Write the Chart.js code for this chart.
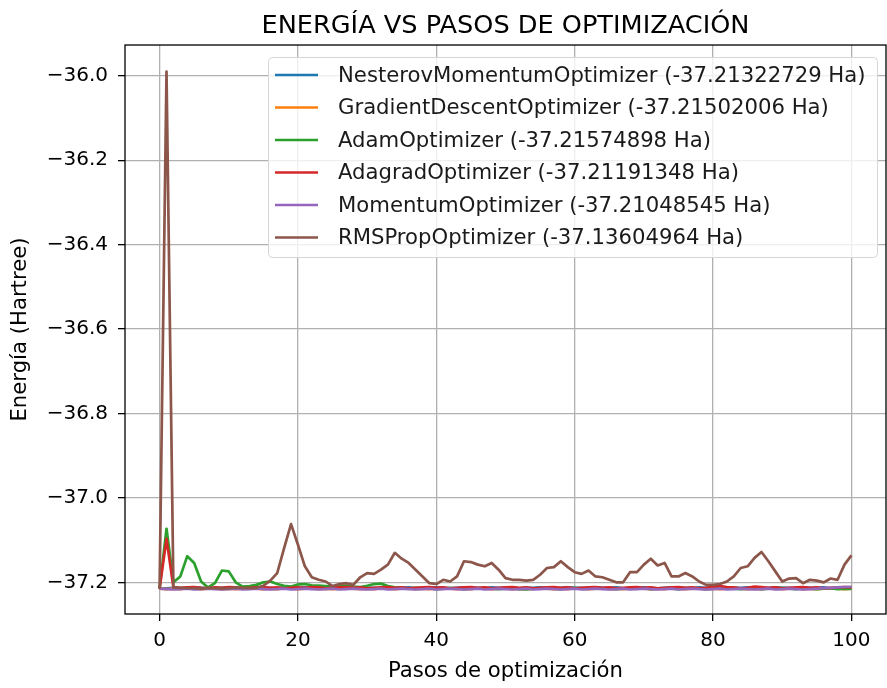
<!DOCTYPE html>
<html><head><meta charset="utf-8">
<script src="https://cdn.jsdelivr.net/npm/chart.js@4.4.0/dist/chart.umd.min.js"></script>
<style>html,body{margin:0;padding:0;background:#fff;}#wrap{width:887px;height:688px;position:relative;}</style>
</head><body><div id="wrap"><canvas id="c"></canvas></div>
<script>
const steps = [0,1,2,3,4,5,6,7,8,9,10,11,12,13,14,15,16,17,18,19,20,21,22,23,24,25,26,27,28,29,30,31,32,33,34,35,36,37,38,39,40,41,42,43,44,45,46,47,48,49,50,51,52,53,54,55,56,57,58,59,60,61,62,63,64,65,66,67,68,69,70,71,72,73,74,75,76,77,78,79,80,81,82,83,84,85,86,87,88,89,90,91,92,93,94,95,96,97,98,99,100];

const seriesNames = ["NesterovMomentumOptimizer (-37.21322729 Ha)","GradientDescentOptimizer (-37.21502006 Ha)","AdamOptimizer (-37.21574898 Ha)","AdagradOptimizer (-37.21191348 Ha)","MomentumOptimizer (-37.21048545 Ha)","RMSPropOptimizer (-37.13604964 Ha)"];
const seriesColors = ["#1f77b4","#ff7f0e","#2ca02c","#d62728","#9467bd","#8c564b"];

const nesterov = [-37.215,-37.214,-37.213,-37.214,-37.213,-37.212,-37.213,-37.214,-37.213,-37.213,
-37.212,-37.213,-37.214,-37.213,-37.212,-37.213,-37.213,-37.214,-37.212,-37.213,
-37.213,-37.212,-37.214,-37.213,-37.213,-37.212,-37.213,-37.214,-37.213,-37.212,
-37.213,-37.213,-37.214,-37.212,-37.213,-37.213,-37.212,-37.214,-37.213,-37.213,
-37.212,-37.213,-37.214,-37.213,-37.212,-37.213,-37.213,-37.214,-37.212,-37.213,
-37.213,-37.212,-37.214,-37.213,-37.213,-37.212,-37.213,-37.214,-37.213,-37.212,
-37.213,-37.213,-37.214,-37.212,-37.213,-37.213,-37.212,-37.214,-37.213,-37.213,
-37.212,-37.213,-37.214,-37.213,-37.212,-37.213,-37.213,-37.214,-37.212,-37.213,
-37.213,-37.212,-37.214,-37.213,-37.213,-37.212,-37.213,-37.214,-37.213,-37.212,
-37.213,-37.213,-37.214,-37.212,-37.213,-37.213,-37.212,-37.214,-37.213,-37.213,
-37.2132];
const gradDescent = [-37.215,-37.216,-37.215,-37.216,-37.214,-37.215,-37.216,-37.215,-37.214,-37.216,
-37.215,-37.216,-37.215,-37.214,-37.215,-37.216,-37.215,-37.216,-37.214,-37.215,
-37.216,-37.215,-37.214,-37.216,-37.215,-37.216,-37.215,-37.214,-37.215,-37.216,
-37.215,-37.216,-37.214,-37.215,-37.216,-37.215,-37.214,-37.216,-37.215,-37.216,
-37.215,-37.214,-37.215,-37.216,-37.215,-37.216,-37.214,-37.215,-37.216,-37.215,
-37.214,-37.216,-37.215,-37.216,-37.215,-37.214,-37.215,-37.216,-37.215,-37.216,
-37.214,-37.215,-37.216,-37.215,-37.214,-37.216,-37.215,-37.216,-37.215,-37.214,
-37.215,-37.216,-37.215,-37.216,-37.214,-37.215,-37.216,-37.215,-37.214,-37.216,
-37.215,-37.216,-37.215,-37.214,-37.215,-37.216,-37.215,-37.216,-37.214,-37.215,
-37.216,-37.215,-37.214,-37.216,-37.215,-37.216,-37.215,-37.214,-37.215,-37.216,
-37.2150];
const adam = [-37.215,-37.073,-37.200,-37.186,-37.138,-37.154,-37.198,-37.212,-37.202,-37.172,
-37.174,-37.200,-37.210,-37.209,-37.206,-37.200,-37.198,-37.204,-37.208,-37.210,
-37.205,-37.204,-37.207,-37.208,-37.209,-37.210,-37.209,-37.208,-37.210,-37.211,
-37.208,-37.204,-37.203,-37.209,-37.212,-37.213,-37.214,-37.213,-37.215,-37.214,
-37.216,-37.215,-37.213,-37.214,-37.216,-37.215,-37.214,-37.213,-37.215,-37.216,
-37.215,-37.214,-37.216,-37.217,-37.215,-37.214,-37.213,-37.215,-37.216,-37.214,
-37.213,-37.215,-37.214,-37.212,-37.214,-37.215,-37.216,-37.215,-37.214,-37.213,
-37.214,-37.216,-37.215,-37.214,-37.215,-37.216,-37.214,-37.213,-37.215,-37.216,
-37.215,-37.214,-37.213,-37.215,-37.216,-37.215,-37.214,-37.216,-37.215,-37.214,
-37.213,-37.215,-37.216,-37.214,-37.215,-37.216,-37.215,-37.214,-37.216,-37.215,
-37.2157];
const adagrad = [-37.215,-37.097,-37.212,-37.213,-37.212,-37.211,-37.213,-37.214,-37.212,-37.213,
-37.211,-37.212,-37.214,-37.213,-37.212,-37.211,-37.213,-37.212,-37.214,-37.213,
-37.212,-37.213,-37.211,-37.212,-37.214,-37.213,-37.212,-37.211,-37.213,-37.212,
-37.214,-37.213,-37.212,-37.211,-37.213,-37.212,-37.214,-37.213,-37.212,-37.211,
-37.213,-37.212,-37.214,-37.213,-37.212,-37.211,-37.213,-37.212,-37.214,-37.213,
-37.212,-37.211,-37.213,-37.212,-37.214,-37.213,-37.212,-37.211,-37.213,-37.212,
-37.214,-37.213,-37.212,-37.211,-37.213,-37.212,-37.214,-37.213,-37.212,-37.211,
-37.213,-37.212,-37.214,-37.213,-37.212,-37.211,-37.213,-37.212,-37.214,-37.213,
-37.210,-37.209,-37.211,-37.212,-37.214,-37.213,-37.210,-37.211,-37.213,-37.212,
-37.214,-37.213,-37.212,-37.211,-37.213,-37.212,-37.214,-37.213,-37.212,-37.211,
-37.2119];
const momentum = [-37.215,-37.216,-37.217,-37.216,-37.215,-37.217,-37.216,-37.215,-37.216,-37.217,
-37.216,-37.215,-37.217,-37.216,-37.215,-37.216,-37.217,-37.216,-37.215,-37.217,
-37.216,-37.215,-37.216,-37.217,-37.216,-37.215,-37.217,-37.216,-37.215,-37.216,
-37.217,-37.216,-37.215,-37.217,-37.216,-37.215,-37.216,-37.217,-37.216,-37.215,
-37.217,-37.216,-37.215,-37.216,-37.217,-37.216,-37.215,-37.217,-37.216,-37.215,
-37.216,-37.217,-37.216,-37.215,-37.217,-37.216,-37.215,-37.216,-37.217,-37.216,
-37.215,-37.217,-37.216,-37.215,-37.216,-37.217,-37.216,-37.215,-37.217,-37.216,
-37.215,-37.216,-37.217,-37.216,-37.215,-37.217,-37.216,-37.215,-37.216,-37.217,
-37.216,-37.215,-37.217,-37.216,-37.215,-37.216,-37.217,-37.216,-37.215,-37.217,
-37.216,-37.215,-37.216,-37.217,-37.216,-37.215,-37.214,-37.213,-37.212,-37.211,
-37.2105];
const rmsprop = [-37.215,-35.990,-37.212,-37.213,-37.214,-37.214,-37.215,-37.213,-37.214,-37.215,
-37.214,-37.212,-37.213,-37.214,-37.213,-37.208,-37.196,-37.178,-37.119,-37.062,
-37.111,-37.162,-37.188,-37.194,-37.198,-37.209,-37.204,-37.202,-37.206,-37.188,
-37.178,-37.180,-37.170,-37.158,-37.130,-37.144,-37.154,-37.170,-37.186,-37.202,
-37.204,-37.194,-37.198,-37.186,-37.150,-37.152,-37.158,-37.162,-37.154,-37.170,
-37.190,-37.194,-37.194,-37.196,-37.194,-37.182,-37.166,-37.164,-37.150,-37.164,
-37.176,-37.180,-37.172,-37.186,-37.188,-37.194,-37.200,-37.200,-37.176,-37.176,
-37.158,-37.144,-37.160,-37.154,-37.186,-37.186,-37.178,-37.186,-37.198,-37.206,
-37.206,-37.204,-37.198,-37.186,-37.166,-37.162,-37.142,-37.128,-37.150,-37.174,
-37.198,-37.191,-37.190,-37.202,-37.194,-37.196,-37.200,-37.191,-37.194,-37.158,
-37.136];

const seriesValues = [nesterov, gradDescent, adam, adagrad, momentum, rmsprop];
const xTicks = [0,20,40,60,80,100];
const yTicks = [-37.2,-37.0,-36.8,-36.6,-36.4,-36.2,-36.0];

const FONT = "'DejaVu Sans', sans-serif";

const datasets = seriesValues.map((vals, i) => ({
  label: seriesNames[i],
  data: steps.map((s, j) => ({x: s, y: vals[j]})),
  borderColor: seriesColors[i],
  backgroundColor: seriesColors[i],
  borderWidth: 2.7,
  pointRadius: 0,
  tension: 0,
  fill: false,
  borderJoinStyle: 'round',
  order: seriesValues.length - i
}));

const framePlugin = {
  id: 'frame',
  afterDatasetsDraw(chart) {
    const {ctx, chartArea: a} = chart;
    ctx.save();
    ctx.strokeStyle = '#000';
    ctx.lineWidth = 1.3;
    ctx.strokeRect(a.left, a.top, a.right - a.left, a.bottom - a.top);
    ctx.restore();
  }
};

const legendPlugin = {
  id: 'mplLegend',
  afterDraw(chart) {
    const ctx = chart.ctx;
    const x0 = 268, y0 = 57, w = 609, h = 200, r = 4;
    ctx.save();
    ctx.beginPath();
    ctx.roundRect(x0 + 0.5, y0 + 0.5, w, h, r);
    ctx.fillStyle = 'rgba(255,255,255,0.8)';
    ctx.fill();
    ctx.strokeStyle = '#d6d6d6';
    ctx.lineWidth = 1;
    ctx.stroke();
    ctx.font = '21.2px ' + FONT;
    ctx.textBaseline = 'middle';
    ctx.textAlign = 'left';
    seriesNames.forEach((name, i) => {
      const y = 75 + i * 32.5;
      ctx.beginPath();
      ctx.moveTo(275, y);
      ctx.lineTo(318, y);
      ctx.strokeStyle = seriesColors[i];
      ctx.lineWidth = 2.7;
      ctx.stroke();
      ctx.fillStyle = '#1a1a1a';
      ctx.fillText(name, 338, y + 1);
    });
    ctx.restore();
  }
};

const fmt = v => (v < 0 ? '\u2212' : '') + Math.abs(v).toFixed(1);

new Chart(document.getElementById('c'), {
  type: 'line',
  data: { datasets },
  plugins: [framePlugin, legendPlugin],
  options: {
    responsive: true,
    maintainAspectRatio: false,
    animation: false,
    layout: { padding: { left: 0, right: 1, top: 0, bottom: 0 } },
    plugins: {
      legend: { display: false },
      tooltip: { enabled: false },
      title: {
        display: true,
        fullSize: false,
        text: 'ENERGÍA VS PASOS DE OPTIMIZACIÓN',
        color: '#000',
        font: { family: FONT, size: 25.6, weight: 'normal', lineHeight: 1.2 },
        padding: { top: 11, bottom: 3.3 }
      }
    },
    scales: {
      x: {
        type: 'linear',
        min: -5, max: 105,
        afterBuildTicks: s => { s.ticks = xTicks.map(v => ({value: v})); },
        afterFit: s => { s.height = 74; },
        ticks: { color: '#000', font: { family: FONT, size: 20 }, padding: 8, maxRotation: 0, callback: v => String(v) },
        grid: { color: '#b0b0b0', lineWidth: 1.3, tickColor: '#000', tickLength: 7, drawTicks: true },
        border: { display: false },
        title: { display: true, text: 'Pasos de optimización', color: '#000', font: { family: FONT, size: 21.2, lineHeight: 1.2 }, padding: { top: 0, bottom: 4 } }
      },
      y: {
        type: 'linear',
        min: -37.275, max: -35.927,
        afterBuildTicks: s => { s.ticks = yTicks.map(v => ({value: v})); },
        afterFit: s => { s.width = 125; },
        ticks: { color: '#000', font: { family: FONT, size: 20 }, padding: 10, callback: v => fmt(v) },
        grid: { color: '#b0b0b0', lineWidth: 1.3, tickColor: '#000', tickLength: 7, drawTicks: true },
        border: { display: false },
        title: { display: true, text: 'Energía (Hartree)', color: '#000', font: { family: FONT, size: 21.2, lineHeight: 1.2 }, padding: { top: 8, bottom: 0 } }
      }
    }
  }
});
</script>
</body></html>
